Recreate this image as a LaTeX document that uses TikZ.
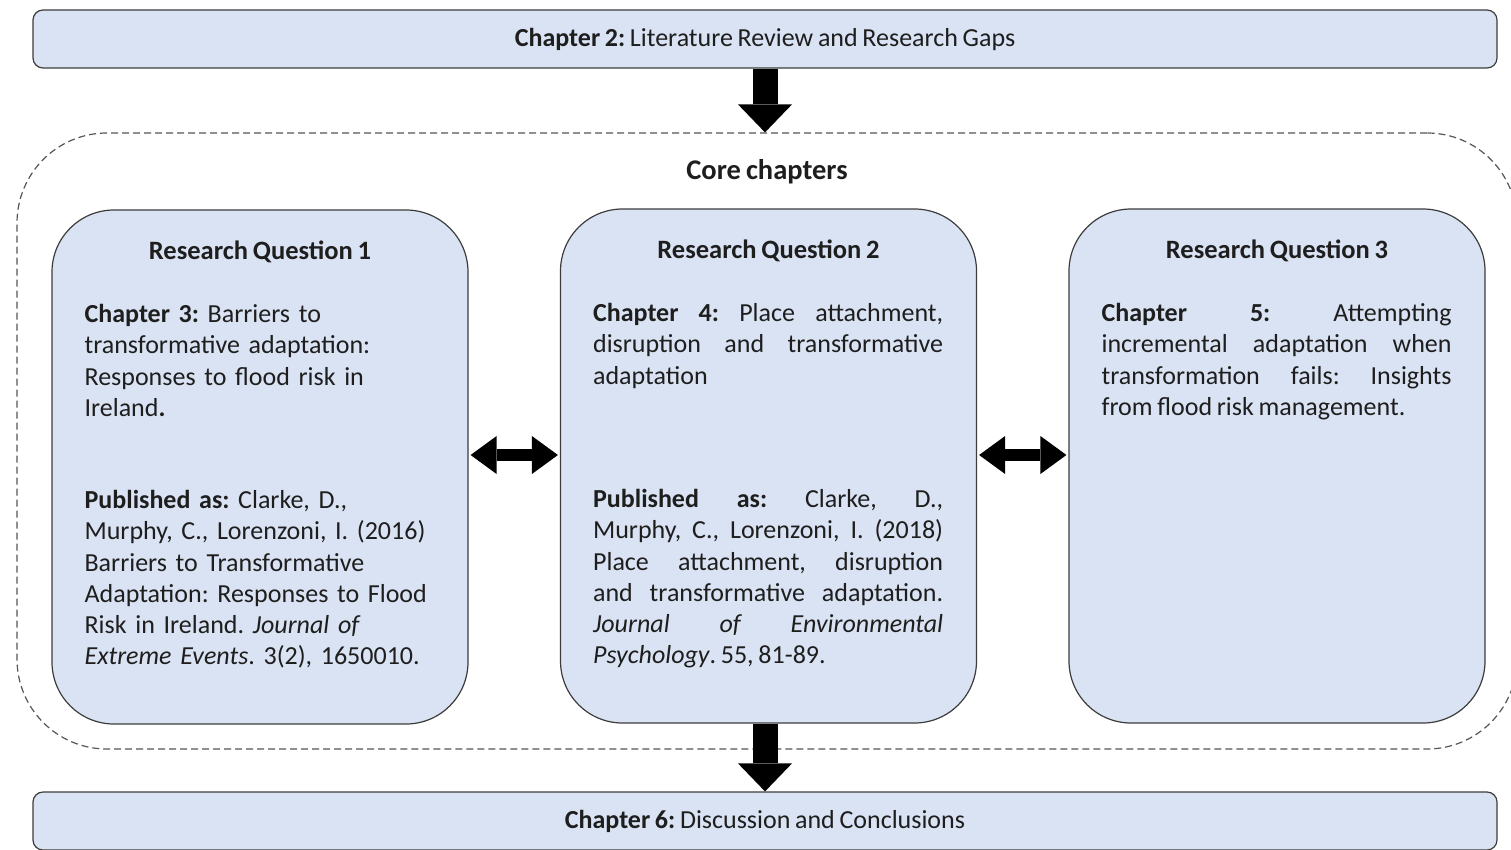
\documentclass[tikz,border=0pt]{standalone}
\usepackage{fontspec}
\setmainfont{Carlito}[WordSpace={0.8,0.8,0.8}]
\usetikzlibrary{arrows.meta,calc}
\definecolor{boxfill}{HTML}{DAE3F3}
\definecolor{boxline}{HTML}{3C3C3C}
\definecolor{dashline}{HTML}{555555}
\definecolor{txt}{HTML}{1E1E1E}
\begin{document}
\frenchspacing
\begin{tikzpicture}[x=1pt,y=-1pt,
  chapbox/.style={draw=boxline, fill=boxfill, line width=1.2pt, rounded corners=10pt,
    minimum width=1464pt, minimum height=58pt, inner sep=0pt, text=txt,
    font=\fontsize{26}{31}\selectfont},
  corebox/.style={draw=dashline, line width=1.2pt, dash pattern=on 7pt off 4pt,
    rounded corners=90pt, minimum width=1500pt, minimum height=616pt, inner sep=0pt},
  rqbox/.style={draw=boxline, fill=boxfill, line width=1.2pt, rounded corners=62pt,
    minimum width=416pt, minimum height=514pt, inner sep=0pt},
  rqtitle/.style={anchor=base, inner sep=0pt, text=txt, font=\fontsize{26.5}{31}\selectfont\bfseries},
  body/.style={anchor=base west, inner sep=0pt, text=txt, text width=350pt,
    font=\fontsize{26}{31.3}\selectfont},
  ragged/.style={body, align=left},
  just/.style={body, align=justify},
  bigarrow/.style={line width=25pt, draw=black,
    -{Triangle[length=28pt,width=54pt,line width=0pt]}},
  dblarrow/.style={line width=12pt, draw=black,
    {Triangle[length=26pt,width=38pt,line width=0pt]}-{Triangle[length=26pt,width=38pt,line width=0pt]}}
]
\useasboundingbox (0,0) rectangle (1511,849);

% dashed container
\node[corebox] (core) at (767,441) {};
\node[anchor=base, inner sep=0pt, text=txt, font=\fontsize{28.5}{33}\selectfont\bfseries] (coretitle) at (767,179) {Core chapters};

% top and bottom chapters
\node[chapbox] (ch2) at (765,39) {\textbf{Chapter 2:} Literature Review and Research Gaps};
\node[chapbox] (ch6) at (765,821) {\textbf{Chapter 6:} Discussion and Conclusions};

% research question boxes
\node[rqbox] (rq1) at (260,467) {};
\node[rqbox] (rq2) at (768.5,466) {};
\node[rqbox] (rq3) at (1277,466) {};

% arrows
\draw[bigarrow] (ch2.south) -- (ch2.south |- core.north);
\draw[bigarrow] (ch6.north |- rq2.south) -- (ch6.north);
\draw[dblarrow] ($(rq1.east)+(2,-12)$) -- ($(rq2.west)+(-2,-11)$);
\draw[dblarrow] ($(rq2.east)+(2,-11)$) -- ($(rq3.west)+(-2,-11)$);

% titles
\node[rqtitle] (t1) at ($(rq1.north)+(0,50)$) {Research Question 1};
\node[rqtitle] (t2) at ($(rq2.north)+(0,50)$) {Research Question 2};
\node[rqtitle] (t3) at ($(rq3.north)+(0,50)$) {Research Question 3};

% RQ1 text
\node[ragged] (c3) at ($(rq1.north west)+(33,113)$) {\textbf{Chapter 3:} Barriers to\\transformative adaptation:\\Responses to flood risk in\\Ireland\textbf{.}};
\node[ragged] (p1) at ($(rq1.north west)+(33,299)$) {\textbf{Published as:} Clarke, D.,\\Murphy, C., Lorenzoni, I. (2016)\\Barriers to Transformative\\Adaptation: Responses to Flood\\Risk in Ireland. \textit{Journal of}\\\textit{Extreme Events}. 3(2), 1650010.};

% RQ2 text
\node[just] (c4) at ($(rq2.north west)+(33,113)$) {\textbf{Chapter 4:} Place attachment,\linebreak disruption and transformative\linebreak adaptation};
\node[just] (p2) at ($(rq2.north west)+(33,299)$) {\textbf{Published as:} Clarke, D.,\linebreak Murphy, C., Lorenzoni, I. (2018)\linebreak Place attachment, disruption\linebreak and transformative adaptation.\linebreak \textit{Journal of Environmental}\linebreak \textit{Psychology}. 55, 81-89.};

% RQ3 text
\node[just] (c5) at ($(rq3.north west)+(33,113)$) {\textbf{Chapter 5:} Attempting\linebreak incremental adaptation when\linebreak transformation fails: Insights\linebreak from flood risk management.};
\end{tikzpicture}
\end{document}
